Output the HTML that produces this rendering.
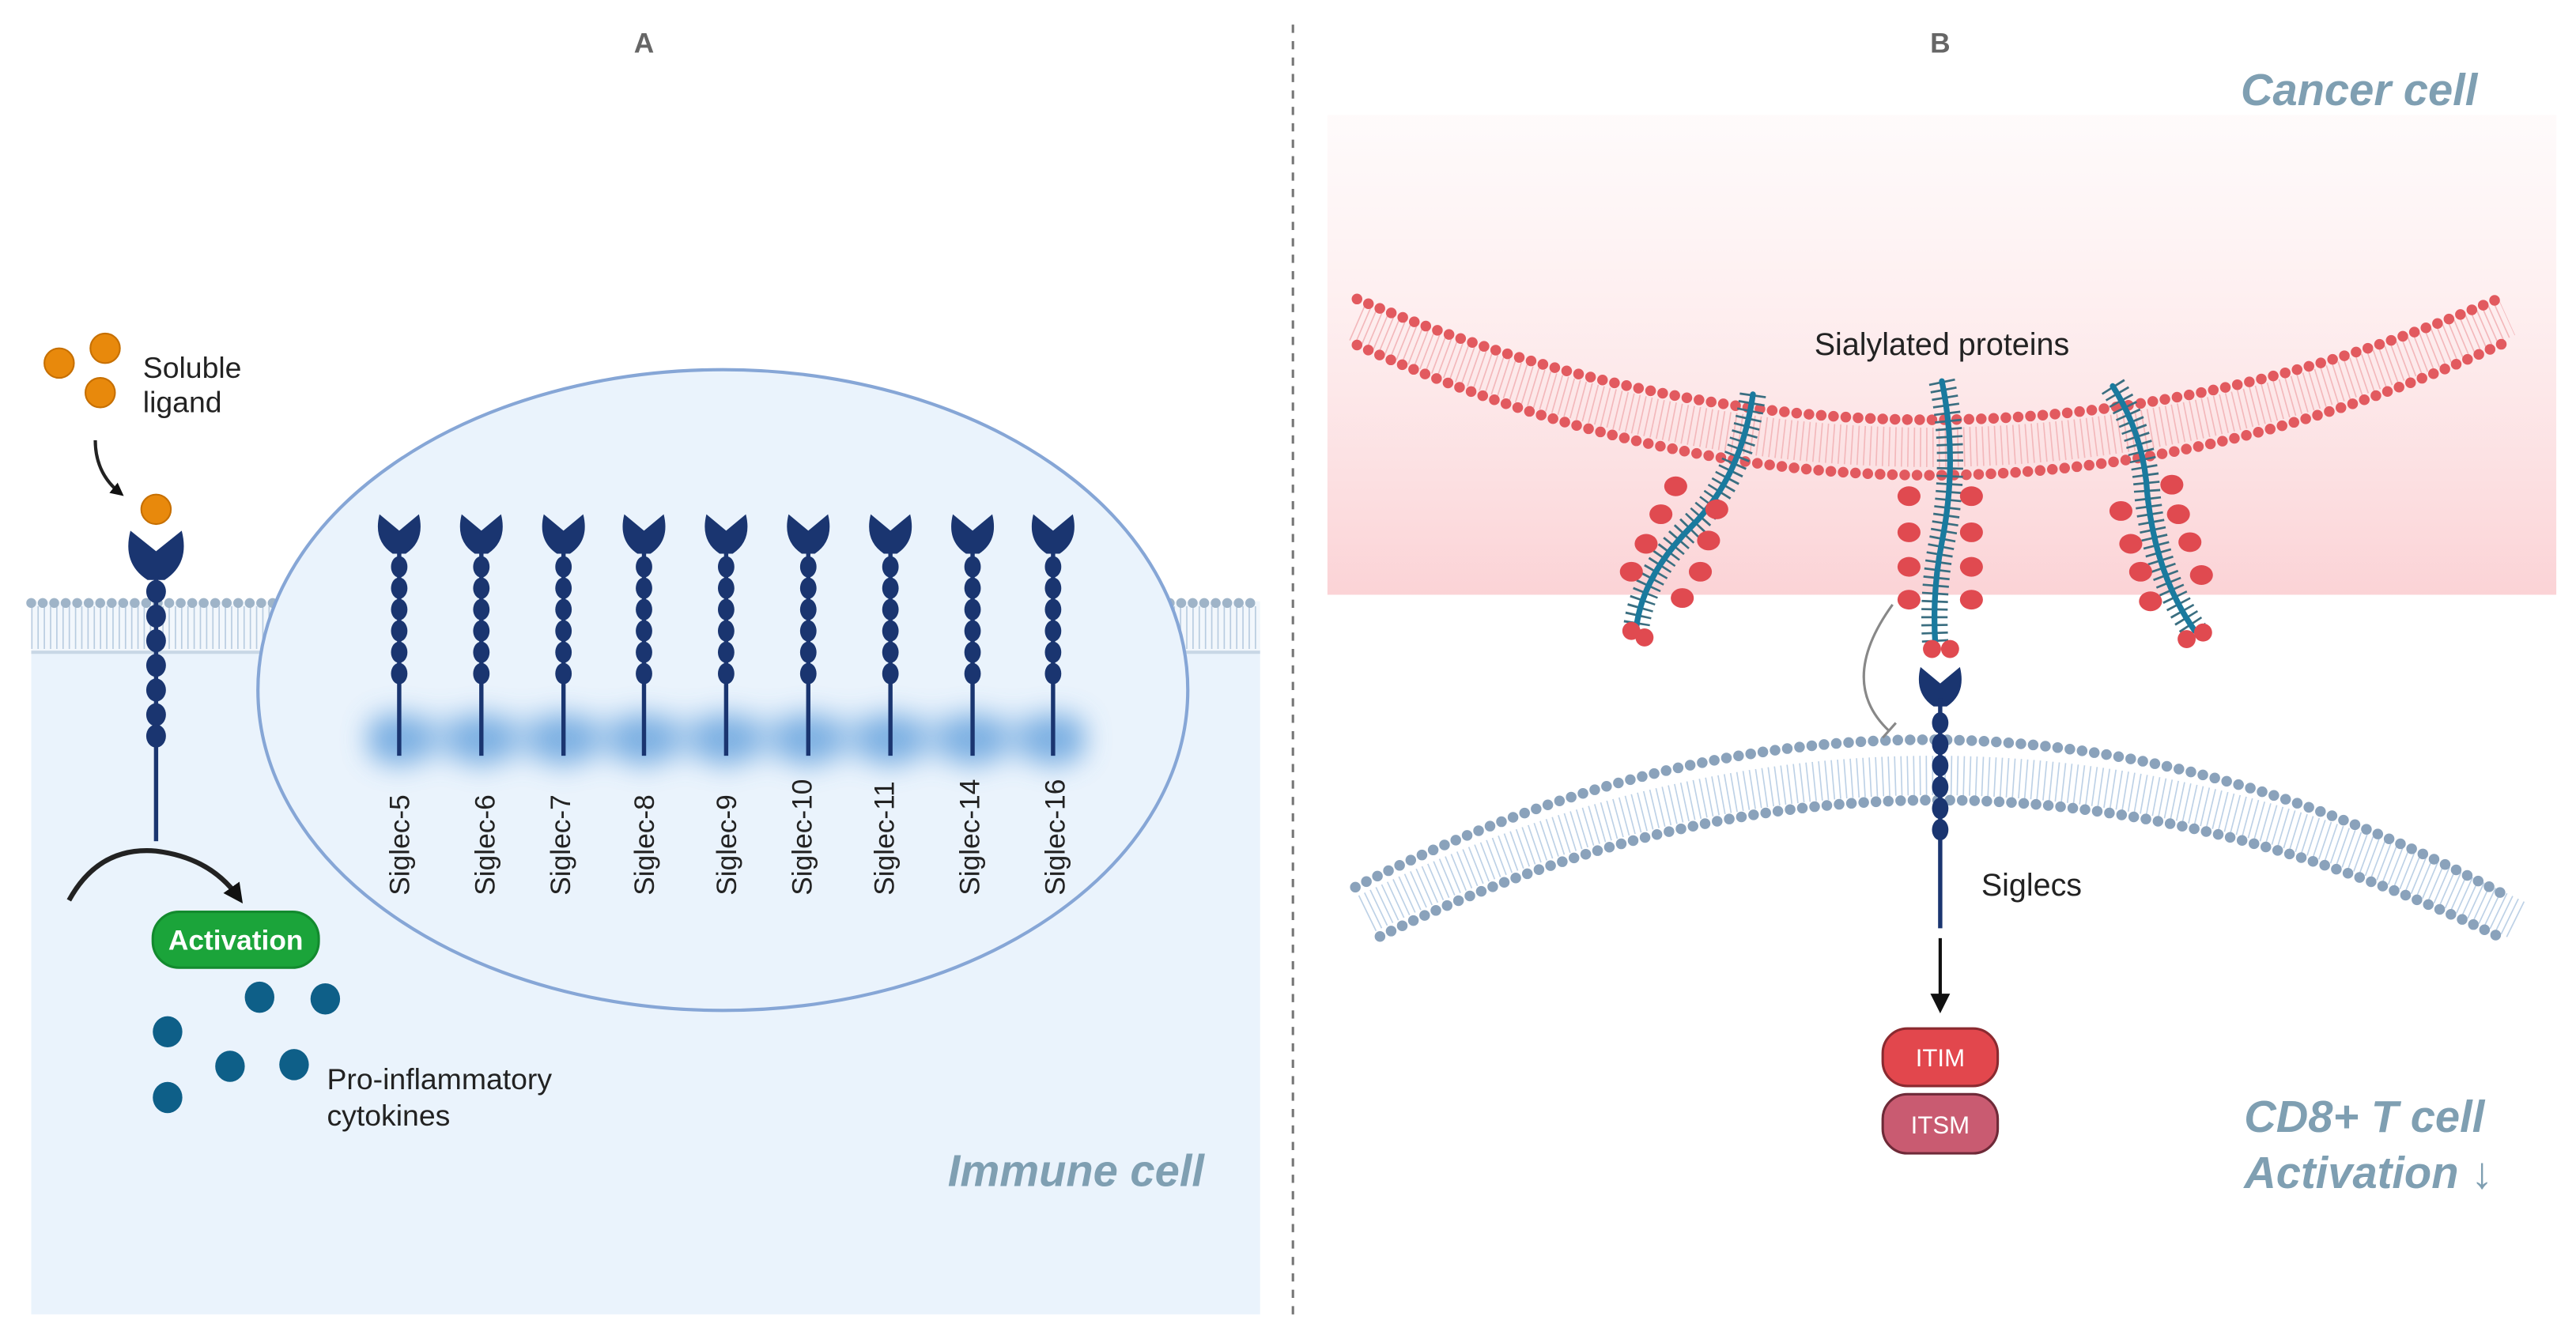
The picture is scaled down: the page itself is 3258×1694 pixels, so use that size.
<!DOCTYPE html>
<html><head><meta charset="utf-8"><style>
html,body{margin:0;padding:0;background:#fff;}
svg{display:block;}
text{font-family:"Liberation Sans",sans-serif;}
</style></head><body>
<svg width="3258" height="1694" viewBox="0 0 1568 815" preserveAspectRatio="none" xmlns="http://www.w3.org/2000/svg">
<defs>
<linearGradient id="pk" x1="0" y1="0" x2="0" y2="1">
<stop offset="0" stop-color="#fde8e9" stop-opacity="0.2"/>
<stop offset="1" stop-color="#fbd3d6"/>
</linearGradient>
<filter id="bl" x="-50%" y="-100%" width="200%" height="300%"><feGaussianBlur stdDeviation="8"/></filter>
<g id="rec">
<path d="M-12,-12 L0,-2 L12,-12 Q16,4 4,12 L-4,12 Q-16,4 -12,-12 Z" fill="#1a3570"/>
<rect x="-1.3" y="10" width="2.6" height="125" fill="#1a3570"/>
<ellipse cx="0" cy="20" rx="5" ry="6.5" fill="#1a3570"/>
<ellipse cx="0" cy="33" rx="5" ry="6.5" fill="#1a3570"/>
<ellipse cx="0" cy="46" rx="5" ry="6.5" fill="#1a3570"/>
<ellipse cx="0" cy="59" rx="5" ry="6.5" fill="#1a3570"/>
<ellipse cx="0" cy="72" rx="5" ry="6.5" fill="#1a3570"/>
<ellipse cx="0" cy="85" rx="5" ry="6.5" fill="#1a3570"/>
</g>
<marker id="ah" markerWidth="8" markerHeight="8" refX="5" refY="4" orient="auto" markerUnits="userSpaceOnUse"><path d="M0,0 L8,4 L0,8 Z" fill="#111"/></marker>
<marker id="ah2" viewBox="0 0 10 10" markerWidth="12" markerHeight="12" refX="6" refY="5" orient="auto" markerUnits="userSpaceOnUse"><path d="M0,0 L10,5 L0,10 Z" fill="#111"/></marker>
</defs>

<line x1="787" y1="15" x2="787" y2="800" stroke="#777" stroke-width="1.5" stroke-dasharray="5,5"/>
<text x="392" y="32" font-size="17" font-weight="bold" fill="#666" text-anchor="middle">A</text>
<text x="1181" y="32" font-size="17" font-weight="bold" fill="#666" text-anchor="middle">B</text>

<rect x="19" y="380" width="748" height="420" fill="#eaf3fc"/>
<rect x="19" y="366" width="748" height="32" fill="#f2f7fc"/>
<line x1="19" y1="382" x2="767" y2="382" stroke="#b8cce0" stroke-width="26" stroke-dasharray="0.8 3"/>
<line x1="19" y1="367" x2="767" y2="367" stroke="#9fb4c8" stroke-width="6" stroke-linecap="round" stroke-dasharray="0 7"/>
<line x1="19" y1="397" x2="767" y2="397" stroke="#c8d7e6" stroke-width="2"/>
<ellipse cx="440" cy="420" rx="283" ry="195" fill="#eaf3fc" stroke="#86a6d6" stroke-width="2"/>
<g filter="url(#bl)" fill="#4f94d8" opacity="0.7">
<rect x="225" y="436" width="435" height="26" opacity="0.5"/>
<ellipse cx="243" cy="450" rx="20" ry="16"/><ellipse cx="293" cy="450" rx="20" ry="16"/><ellipse cx="343" cy="450" rx="20" ry="16"/>
<ellipse cx="392" cy="450" rx="20" ry="16"/><ellipse cx="442" cy="450" rx="20" ry="16"/><ellipse cx="492" cy="450" rx="20" ry="16"/>
<ellipse cx="542" cy="450" rx="20" ry="16"/><ellipse cx="592" cy="450" rx="20" ry="16"/><ellipse cx="641" cy="450" rx="20" ry="16"/>
</g>
<g>
<use href="#rec" x="243" y="325"/><use href="#rec" x="293" y="325"/><use href="#rec" x="343" y="325"/>
<use href="#rec" x="392" y="325"/><use href="#rec" x="442" y="325"/><use href="#rec" x="492" y="325"/>
<use href="#rec" x="542" y="325"/><use href="#rec" x="592" y="325"/><use href="#rec" x="641" y="325"/>
</g>
<g font-size="17" fill="#222">
<text transform="translate(249,545) rotate(-90)">Siglec-5</text>
<text transform="translate(301,545) rotate(-90)">Siglec-6</text>
<text transform="translate(347,545) rotate(-90)">Siglec-7</text>
<text transform="translate(398,545) rotate(-90)">Siglec-8</text>
<text transform="translate(448,545) rotate(-90)">Siglec-9</text>
<text transform="translate(494,545) rotate(-90)">Siglec-10</text>
<text transform="translate(544,545) rotate(-90)">Siglec-11</text>
<text transform="translate(596,545) rotate(-90)">Siglec-14</text>
<text transform="translate(648,545) rotate(-90)">Siglec-16</text>
</g>
<g transform="translate(95,338) scale(1.3,1.25)"><path d="M-12,-12 L0,-2 L12,-12 Q16,4 4,12 L-4,12 Q-16,4 -12,-12 Z" fill="#1a3570"/></g>
<rect x="93.7" y="350" width="2.6" height="162" fill="#1a3570"/>
<g fill="#1a3570">
<ellipse cx="95" cy="360" rx="6" ry="7"/><ellipse cx="95" cy="375" rx="6" ry="7"/><ellipse cx="95" cy="390" rx="6" ry="7"/>
<ellipse cx="95" cy="405" rx="6" ry="7"/><ellipse cx="95" cy="420" rx="6" ry="7"/><ellipse cx="95" cy="435" rx="6" ry="7"/><ellipse cx="95" cy="448" rx="6" ry="7"/>
</g>
<g fill="#e8890c" stroke="#c66f00" stroke-width="1">
<circle cx="36" cy="221" r="9"/><circle cx="64" cy="212" r="9"/><circle cx="61" cy="239" r="9"/><circle cx="95" cy="310" r="9"/>
</g>
<text x="87" y="230" font-size="18" fill="#222">Soluble</text>
<text x="87" y="251" font-size="18" fill="#222">ligand</text>
<path d="M58,268 Q58,288 73,300" fill="none" stroke="#222" stroke-width="2" marker-end="url(#ah)"/>
<path d="M42,548 Q60,515 95,518 Q128,522 145,546" fill="none" stroke="#222" stroke-width="3" marker-end="url(#ah2)"/>
<rect x="93" y="555" width="101" height="34" rx="16" fill="#1ba43a" stroke="#138a2e" stroke-width="1.5"/>
<text x="143.5" y="578" font-size="17" font-weight="bold" fill="#fff" text-anchor="middle">Activation</text>
<g fill="#0e5f88">
<ellipse cx="158" cy="607" rx="9" ry="9.5"/><ellipse cx="198" cy="608" rx="9" ry="9.5"/><ellipse cx="102" cy="628" rx="9" ry="9.5"/>
<ellipse cx="140" cy="649" rx="9" ry="9.5"/><ellipse cx="179" cy="648" rx="9" ry="9.5"/><ellipse cx="102" cy="668" rx="9" ry="9.5"/>
</g>
<text x="199" y="663" font-size="18" fill="#222">Pro-inflammatory</text>
<text x="199" y="685" font-size="18" fill="#222">cytokines</text>
<text x="733" y="722" font-size="27" font-weight="bold" font-style="italic" fill="#7f9fb2" text-anchor="end">Immune cell</text>

<rect x="808" y="70" width="748" height="292" fill="url(#pk)"/>
<text x="1508" y="64" font-size="27" font-weight="bold" font-style="italic" fill="#7f9fb2" text-anchor="end">Cancer cell</text>
<path d="M826,196 Q1180,350 1526,193" fill="none" stroke="#f3b8bb" stroke-width="24" stroke-dasharray="0.8 3"/>
<path d="M826,182 Q1180,330 1525,180" fill="none" stroke="#e25a5f" stroke-width="6.5" stroke-linecap="round" stroke-dasharray="0 7.5"/>
<path d="M826,210 Q1180,370 1528,207" fill="none" stroke="#e25a5f" stroke-width="6.5" stroke-linecap="round" stroke-dasharray="0 7.5"/>
<text x="1182" y="216" font-size="19" fill="#222" text-anchor="middle">Sialylated proteins</text>
<g fill="none">
<path d="M1067,240 Q1060,290 1030,320 Q1000,350 996,382" stroke="#3a6e80" stroke-width="16" stroke-dasharray="1.3 3.5"/>
<path d="M1067,240 Q1060,290 1030,320 Q1000,350 996,382" stroke="#1a7a9e" stroke-width="3.5" stroke-linecap="round"/>
<path d="M1182,232 Q1192,280 1182,330 Q1176,360 1178,392" stroke="#3a6e80" stroke-width="16" stroke-dasharray="1.3 3.5"/>
<path d="M1182,232 Q1192,280 1182,330 Q1176,360 1178,392" stroke="#1a7a9e" stroke-width="3.5" stroke-linecap="round"/>
<path d="M1286,235 Q1305,265 1307,300 Q1312,350 1336,384" stroke="#3a6e80" stroke-width="16" stroke-dasharray="1.3 3.5"/>
<path d="M1286,235 Q1305,265 1307,300 Q1312,350 1336,384" stroke="#1a7a9e" stroke-width="3.5" stroke-linecap="round"/>
</g>
<g fill="#e04a50">
<ellipse cx="1020" cy="296" rx="7" ry="6"/><ellipse cx="1011" cy="313" rx="7" ry="6"/><ellipse cx="1002" cy="331" rx="7" ry="6"/><ellipse cx="993" cy="348" rx="7" ry="6"/>
<ellipse cx="1045" cy="310" rx="7" ry="6"/><ellipse cx="1040" cy="329" rx="7" ry="6"/><ellipse cx="1035" cy="348" rx="7" ry="6"/><ellipse cx="1024" cy="364" rx="7" ry="6"/>
<circle cx="993" cy="384" r="5.5"/><circle cx="1001" cy="388" r="5.5"/>
<ellipse cx="1162" cy="302" rx="7" ry="6"/><ellipse cx="1162" cy="324" rx="7" ry="6"/><ellipse cx="1162" cy="345" rx="7" ry="6"/><ellipse cx="1162" cy="365" rx="7" ry="6"/>
<ellipse cx="1200" cy="302" rx="7" ry="6"/><ellipse cx="1200" cy="324" rx="7" ry="6"/><ellipse cx="1200" cy="345" rx="7" ry="6"/><ellipse cx="1200" cy="365" rx="7" ry="6"/>
<circle cx="1176" cy="395" r="5.5"/><circle cx="1187" cy="395" r="5.5"/>
<ellipse cx="1291" cy="311" rx="7" ry="6"/><ellipse cx="1297" cy="331" rx="7" ry="6"/><ellipse cx="1303" cy="348" rx="7" ry="6"/><ellipse cx="1309" cy="366" rx="7" ry="6"/>
<ellipse cx="1322" cy="295" rx="7" ry="6"/><ellipse cx="1326" cy="313" rx="7" ry="6"/><ellipse cx="1333" cy="330" rx="7" ry="6"/><ellipse cx="1340" cy="350" rx="7" ry="6"/>
<circle cx="1331" cy="389" r="5.5"/><circle cx="1341" cy="385" r="5.5"/>
</g>
<path d="M832,556 Q1180,386 1532,560" fill="none" stroke="#bdd1e6" stroke-width="24" stroke-dasharray="0.8 3"/>
<path d="M825,540 Q1180,358 1525,545" fill="none" stroke="#8aa2bb" stroke-width="6.5" stroke-linecap="round" stroke-dasharray="0 7.5"/>
<path d="M840,570 Q1180,403 1525,572" fill="none" stroke="#8aa2bb" stroke-width="6.5" stroke-linecap="round" stroke-dasharray="0 7.5"/>
<path d="M1152,368 Q1118,415 1150,445" fill="none" stroke="#888" stroke-width="1.5"/>
<line x1="1146" y1="449" x2="1154" y2="440" stroke="#888" stroke-width="1.5"/>
<g transform="translate(1181,418)"><path d="M-12,-12 L0,-2 L12,-12 Q16,4 4,12 L-4,12 Q-16,4 -12,-12 Z" fill="#1a3570"/></g>
<rect x="1179.7" y="425" width="2.6" height="140" fill="#1a3570"/>
<g fill="#1a3570">
<ellipse cx="1181" cy="440" rx="5" ry="6.5"/><ellipse cx="1181" cy="453" rx="5" ry="6.5"/><ellipse cx="1181" cy="466" rx="5" ry="6.5"/>
<ellipse cx="1181" cy="479" rx="5" ry="6.5"/><ellipse cx="1181" cy="492" rx="5" ry="6.5"/><ellipse cx="1181" cy="505" rx="5" ry="6.5"/>
</g>
<line x1="1181" y1="571" x2="1181" y2="612" stroke="#111" stroke-width="2" marker-end="url(#ah2)"/>
<text x="1206" y="545" font-size="19" fill="#222">Siglecs</text>
<rect x="1146" y="626" width="70" height="35" rx="15" fill="#e2474d" stroke="#8a2a30" stroke-width="1.5"/>
<text x="1181" y="649" font-size="15" fill="#fff" text-anchor="middle">ITIM</text>
<rect x="1146" y="666" width="70" height="36" rx="15" fill="#c95b71" stroke="#6e2a38" stroke-width="1.5"/>
<text x="1181" y="690" font-size="15" fill="#fff" text-anchor="middle">ITSM</text>
<text x="1366" y="689" font-size="27" font-weight="bold" font-style="italic" fill="#7f9fb2">CD8+ T cell</text>
<text x="1366" y="723" font-size="27" font-weight="bold" font-style="italic" fill="#7f9fb2">Activation ↓</text>
</svg>
</body></html>
